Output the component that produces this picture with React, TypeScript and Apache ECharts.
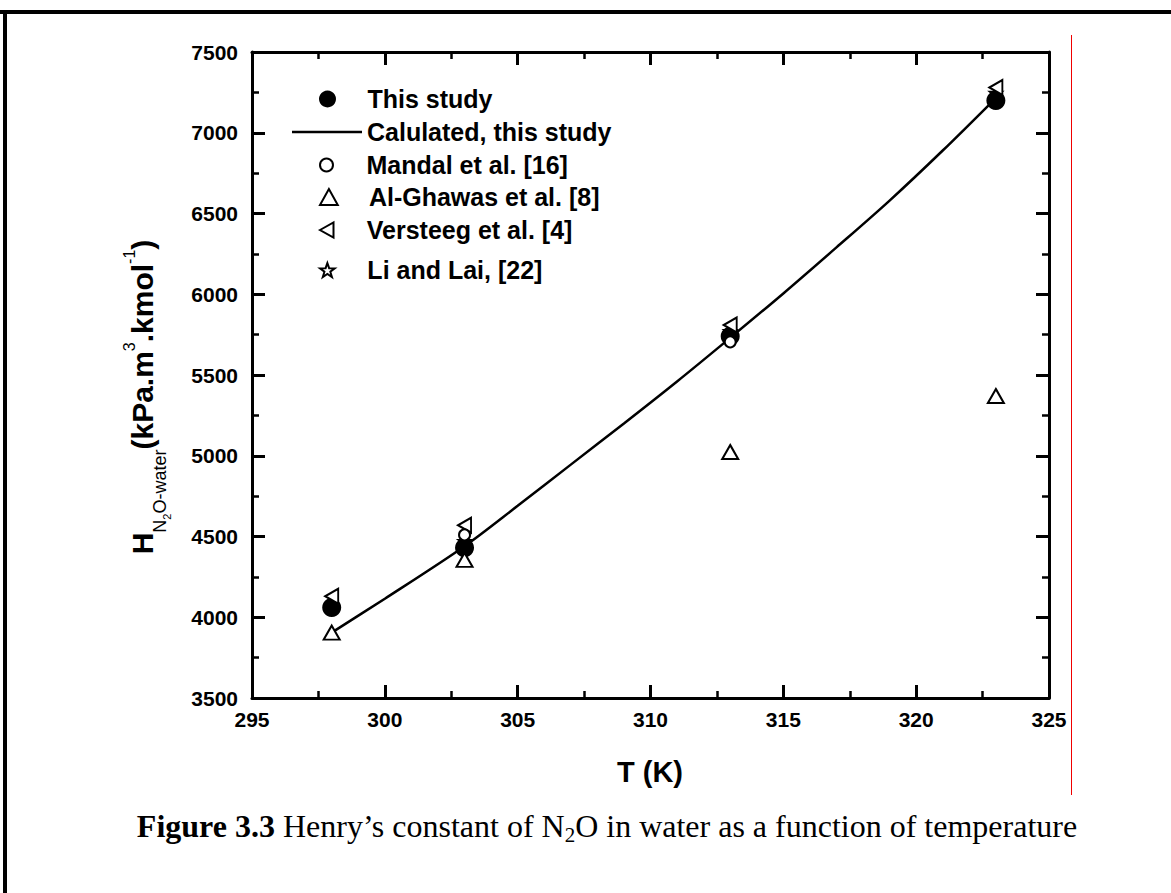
import React, { useEffect, useRef } from "react";
import * as echarts from "echarts";

// ---- data ----
const T_POINTS = [298, 303, 313, 323];
const thisStudy = [4060, 4430, 5740, 7200];
const mandalT = [303, 313];
const mandal = [4510, 5705];
const alGhawas = [3905, 4355, 5023, 5370];
const versteeg = [4130, 4570, 5810, 7280];
const liLaiT = [303, 313, 323];
const liLai = [4470, 5770, 7245];
const calcT = [298, 300, 303, 305, 307, 309, 311, 313, 315, 317, 319, 321, 323];
const calcH = [3905, 4115, 4440, 4690, 4945, 5200, 5460, 5730, 6005, 6290, 6580, 6890, 7215];

const X_MIN = 295;
const X_MAX = 325;
const X_STEP = 5;
const Y_MIN = 3500;
const Y_MAX = 7500;
const Y_STEP = 500;

const NAMES = [
  "This study",
  "Calulated, this study",
  "Mandal et al. [16]",
  "Al-Ghawas et al. [8]",
  "Versteeg et al. [4]",
  "Li and Lai, [22]",
];

const FONT = '"Liberation Sans", Arial, sans-serif';
const SERIF = '"Liberation Serif", "Times New Roman", serif';

const TRI_UP = "path://M5,0 L10,9 L0,9 Z";
const TRI_LEFT = "path://M0,5 L9,0 L9,10 Z";
const STAR =
  "path://M5,0 L6.2,3.5 L10,3.6 L7,5.9 L8.1,9.5 L5,7.4 L1.9,9.5 L3,5.9 L0,3.6 L3.8,3.5 Z";

const zip = (xs: number[], ys: number[]) => xs.map((x, i) => [x, ys[i]]);

const plain = (v: number) => String(v);

function makeXAxis(position: "bottom" | "top", showLabel: boolean) {
  return {
    type: "value",
    min: X_MIN,
    max: X_MAX,
    interval: X_STEP,
    position,
    axisLine: { show: true, onZero: false, lineStyle: { color: "#000", width: 3 } },
    axisTick: { show: true, inside: true, length: 13, lineStyle: { color: "#000", width: 3 } },
    minorTick: { show: true, splitNumber: 2, length: 7, lineStyle: { color: "#000", width: 2.5 } },
    splitLine: { show: false },
    minorSplitLine: { show: false },
    axisLabel: {
      show: showLabel,
      formatter: plain,
      margin: 11,
      fontSize: 21,
      fontWeight: "bold",
      color: "#000",
      fontFamily: FONT,
    },
  };
}

function makeYAxis(position: "left" | "right", showLabel: boolean) {
  return {
    type: "value",
    min: Y_MIN,
    max: Y_MAX,
    interval: Y_STEP,
    position,
    axisLine: { show: true, onZero: false, lineStyle: { color: "#000", width: 3 } },
    axisTick: { show: true, inside: true, length: 13, lineStyle: { color: "#000", width: 3 } },
    minorTick: { show: true, splitNumber: 2, length: 7, lineStyle: { color: "#000", width: 2.5 } },
    splitLine: { show: false },
    minorSplitLine: { show: false },
    axisLabel: {
      show: showLabel,
      formatter: plain,
      margin: 14,
      fontSize: 21,
      fontWeight: "bold",
      color: "#000",
      fontFamily: FONT,
    },
  };
}

const LEGEND_ROWS = [99, 132, 165, 197, 230, 270];
const LEGEND_ICON_H = [17, 2.5, 13, 16, 15, 14];

function makeLegend(i: number) {
  const name = NAMES[i];
  const isLine = i === 1;
  return {
    show: true,
    data: isLine ? [{ name, icon: "rect" }] : [name],
    left: isLine ? 292 : 319,
    top: LEGEND_ROWS[i] - 14,
    padding: 0,
    itemWidth: 70,
    itemHeight: LEGEND_ICON_H[i],
    selectedMode: false,
    itemStyle: isLine ? { borderWidth: 0, opacity: 1 } : { opacity: 1 },
    textStyle: {
      fontSize: 25,
      fontWeight: "bold",
      color: "#000",
      fontFamily: FONT,
      lineHeight: 28,
    },
  };
}

export default function App() {
  const ref = useRef<HTMLDivElement>(null);

  useEffect(() => {
    if (!ref.current) return;
    const chart = echarts.init(ref.current, null, { renderer: "svg" });

    const hollow = { color: "#fff", borderColor: "#000", borderWidth: 2, opacity: 1 };

    const option: any = {
      animation: false,
      backgroundColor: "#fff",
      grid: { left: 252, right: 122, top: 52, bottom: 195, containLabel: false },
      xAxis: [makeXAxis("bottom", true), makeXAxis("top", false)],
      yAxis: [makeYAxis("left", true), makeYAxis("right", false)],
      legend: NAMES.map((_, i) => makeLegend(i)),
      series: [
        {
          name: NAMES[1],
          type: "line",
          data: zip(calcT, calcH),
          symbol: "none",
          smooth: 0.3,
          lineStyle: { color: "#000", width: 2.5 },
          itemStyle: { color: "#000" },
          z: 2,
        },
        {
          name: NAMES[5],
          type: "scatter",
          data: zip(liLaiT, liLai),
          symbol: STAR,
          symbolSize: 12,
          itemStyle: hollow,
          z: 3,
        },
        {
          name: NAMES[0],
          type: "scatter",
          data: zip(T_POINTS, thisStudy),
          symbol: "circle",
          symbolSize: 19,
          itemStyle: { color: "#000", opacity: 1 },
          z: 4,
        },
        {
          name: NAMES[3],
          type: "scatter",
          data: zip(T_POINTS, alGhawas),
          symbol: TRI_UP,
          symbolSize: [16, 14],
          itemStyle: hollow,
          z: 5,
        },
        {
          name: NAMES[4],
          type: "scatter",
          data: zip(T_POINTS, versteeg),
          symbol: TRI_LEFT,
          symbolSize: [13, 15],
          itemStyle: hollow,
          z: 6,
        },
        {
          name: NAMES[2],
          type: "scatter",
          data: zip(mandalT, mandal),
          symbol: "circle",
          symbolSize: 11,
          itemStyle: hollow,
          z: 7,
        },
      ],
      graphic: [
        // page frame lines
        { type: "rect", shape: { x: 0, y: 10, width: 1171, height: 4 }, style: { fill: "#000" }, silent: true },
        { type: "rect", shape: { x: 3, y: 10, width: 4, height: 883 }, style: { fill: "#000" }, silent: true },
        // red margin line
        {
          type: "rect",
          shape: { x: 1071, y: 35, width: 1, height: 760 },
          style: { fill: "#f00000" },
          silent: true,
        },
        // x axis title
        {
          type: "text",
          x: 650,
          y: 772,
          style: {
            text: "T (K)",
            fill: "#000",
            font: `bold 29px ${FONT}`,
            align: "center",
            verticalAlign: "middle",
          },
        },
        // y axis title
        {
          type: "text",
          x: 142.5,
          y: 397,
          rotation: Math.PI / 2,
          style: {
            text: "{m|H}{sb|N}{sb2|2}{sb|O-water}{m|(kPa.m}{sp|3}{m|.kmol}{sp|-1}{m|)}",
            fill: "#000",
            align: "center",
            verticalAlign: "middle",
            rich: {
              m: { fontSize: 30, fontWeight: "bold", fontFamily: FONT, lineHeight: 50, fill: "#000" },
              sb: { fontSize: 18, fontFamily: FONT, padding: [34, 0, 0, 0], lineHeight: 20, fill: "#000" },
              sb2: { fontSize: 11, fontFamily: FONT, padding: [48, 0, 0, 0], lineHeight: 20, fill: "#000" },
              sp: { fontSize: 16, fontFamily: FONT, padding: [0, 0, 27, 0], lineHeight: 20, fill: "#000" },
            },
          },
        },
        // caption
        {
          type: "text",
          x: 607,
          y: 826,
          style: {
            text: "{b|Figure 3.3 }{r|Henry’s constant of N}{s|2}{r|O in water as a function of temperature}",
            fill: "#000",
            align: "center",
            verticalAlign: "middle",
            rich: {
              b: { fontSize: 32, fontWeight: "bold", fontFamily: SERIF, lineHeight: 40, fill: "#000" },
              r: { fontSize: 32, fontFamily: SERIF, lineHeight: 40, fill: "#000" },
              s: { fontSize: 21, fontFamily: SERIF, padding: [18, 0, 0, 0], lineHeight: 20, fill: "#000" },
            },
          },
        },
      ],
    };

    chart.setOption(option);
    return () => chart.dispose();
  }, []);

  return (
    <div
      ref={ref}
      style={{ position: "absolute", left: 0, top: 0, width: 1171, height: 893, background: "#fff" }}
    />
  );
}
